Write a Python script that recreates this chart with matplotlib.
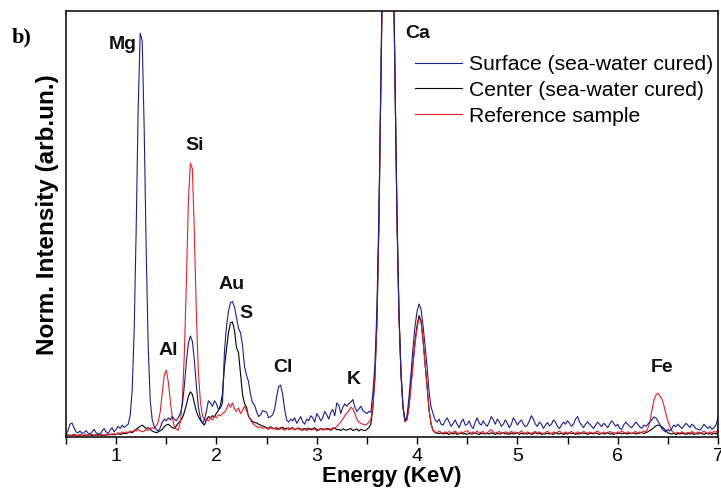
import numpy as np
import matplotlib
matplotlib.use("Agg")
import matplotlib.pyplot as plt

plt.rcParams["font.family"] = ["Liberation Sans", "DejaVu Sans"]

# energy grid, 0.02 keV steps from 0.5 to 7.0
energy = np.round(np.arange(0.50, 7.001, 0.02), 2)

# normalised counts (x1000), rows of 0.2 keV
surface = [
    5, 15, 30, 33, 22, 12, 10, 14, 8, 10,
    15, 9, 7, 12, 18, 10, 8, 6, 14, 20,
    12, 8, 16, 22, 12, 18, 25, 20, 28, 22,
    26, 30, 50, 110, 250, 490, 775, 948, 930, 720,
    435, 210, 85, 40, 25, 18, 14, 22, 35, 42,
    38, 45, 40, 48, 42, 38, 46, 55, 75, 120,
    175, 220, 237, 225, 180, 120, 70, 45, 32, 40,
    60, 85, 80, 72, 85, 78, 65, 68, 80, 200,
    260, 295, 315, 318, 305, 280, 255, 245, 215, 165,
    145, 130, 100, 80, 75, 60, 48, 52, 62, 60,
    58, 45, 48, 52, 65, 95, 118, 122, 100, 65,
    40, 35, 42, 38, 45, 32, 40, 48, 36, 30,
    42, 38, 50, 45, 35, 55, 48, 38, 45, 60,
    52, 42, 58, 65, 50, 80, 75, 55, 70, 78,
    72, 78, 82, 88, 70, 60, 66, 72, 62, 58,
    55, 60, 58, 104, 170, 300, 527, 851, 1188, 1533,
    1742, 1742, 1533, 1188, 846, 522, 292, 150, 72, 38,
    50, 95, 150, 210, 260, 295, 312, 300, 260, 215,
    165, 105, 70, 55, 40, 35, 42, 30, 28, 38,
    45, 35, 25, 32, 40, 30, 22, 35, 42, 28,
    30, 38, 25, 20, 35, 45, 32, 28, 38, 30,
    25, 35, 48, 40, 30, 42, 36, 25, 30, 40,
    32, 22, 30, 45, 38, 28, 35, 40, 30, 24,
    28, 38, 50, 42, 30, 25, 35, 30, 20, 28,
    34, 26, 30, 40, 35, 25, 20, 28, 35, 30,
    38, 32, 25, 30, 42, 48, 35, 28, 22, 30,
    36, 30, 25, 20, 28, 35, 30, 24, 32, 28,
    22, 30, 38, 32, 25, 30, 20, 18, 28, 35,
    30, 25, 22, 28, 35, 30, 24, 20, 28, 25,
    30, 35, 40, 47, 45, 38, 30, 20, 15, 12,
    18, 14, 20, 28, 24, 30, 25, 20, 26, 32,
    28, 22, 30, 26, 20, 18, 16, 22, 30, 25,
    20, 25, 18, 22, 28, 45,
]

center = [
    3, 5, 4, 3, 6, 4, 3, 5, 4, 3,
    5, 4, 6, 3, 5, 4, 6, 5, 3, 5,
    4, 6, 5, 7, 5, 6, 8, 6, 7, 9,
    8, 10, 12, 10, 14, 18, 22, 25, 28, 24,
    20, 22, 18, 14, 12, 10, 12, 15, 18, 24,
    28, 30, 26, 22, 20, 26, 33, 38, 45, 58,
    75, 95, 106, 100, 80, 60, 48, 40, 33, 28,
    40, 48, 45, 50, 47, 56, 62, 75, 100, 165,
    205, 245, 268, 270, 250, 210, 198, 150, 100, 78,
    70, 48, 42, 36, 34, 33, 30, 28, 26, 24,
    22, 20, 24, 21, 19, 22, 18, 20, 23, 19,
    21, 18, 20, 22, 17, 19, 21, 18, 16, 20,
    18, 21, 17, 19, 22, 18, 16, 20, 19, 17,
    20, 18, 16, 19, 21, 17, 18, 15, 19, 17,
    16, 18, 20, 15, 17, 19, 14, 18, 16, 15,
    18, 22, 30, 70, 138, 268, 503, 833, 1172, 1522,
    1738, 1740, 1532, 1186, 840, 515, 285, 148, 70, 36,
    42, 75, 125, 175, 225, 262, 285, 272, 228, 172,
    118, 62, 30, 16, 10, 9, 8, 10, 7, 9,
    8, 6, 9, 7, 10, 6, 8, 9, 7, 8,
    6, 9, 7, 8, 10, 7, 6, 9, 8, 7,
    9, 7, 10, 8, 6, 9, 7, 8, 10, 7,
    8, 6, 9, 7, 8, 10, 6, 9, 7, 8,
    7, 9, 6, 8, 10, 7, 9, 6, 8, 7,
    9, 7, 8, 6, 10, 8, 7, 9, 6, 8,
    7, 10, 8, 9, 6, 8, 7, 10, 8, 9,
    6, 8, 9, 7, 10, 8, 6, 9, 7, 8,
    10, 7, 8, 6, 9, 8, 10, 7, 9, 8,
    7, 9, 8, 10, 7, 8, 9, 11, 8, 10,
    12, 15, 18, 22, 26, 28, 27, 24, 20, 15,
    10, 8, 7, 9, 6, 8, 7, 9, 8, 6,
    8, 7, 9, 6, 8, 7, 10, 8, 6, 9,
    7, 8, 6, 9, 7, 10,
]

reference = [
    2, 4, 3, 5, 4, 3, 5, 4, 3, 5,
    4, 3, 5, 6, 4, 5, 3, 6, 5, 4,
    6, 5, 7, 5, 8, 6, 10, 8, 12, 10,
    12, 10, 14, 12, 16, 14, 18, 15, 12, 14,
    18, 15, 20, 22, 20, 26, 35, 60, 105, 145,
    157, 130, 85, 45, 25, 18, 16, 35, 85, 195,
    360, 550, 643, 630, 478, 290, 150, 85, 50, 40,
    42, 38, 45, 40, 48, 45, 52, 50, 55, 58,
    65, 78, 70, 80, 65, 60, 68, 55, 62, 72,
    62, 50, 40, 32, 28, 25, 22, 24, 20, 22,
    20, 18, 22, 19, 21, 17, 20, 23, 18, 16,
    19, 22, 18, 20, 17, 21, 19, 16, 20, 18,
    15, 18, 20, 17, 19, 14, 18, 20, 16, 19,
    17, 20, 18, 22, 20, 25, 30, 35, 42, 50,
    56, 62, 70, 66, 55, 42, 35, 32, 30, 28,
    30, 35, 42, 75, 140, 270, 505, 835, 1175, 1525,
    1740, 1742, 1535, 1190, 840, 515, 285, 148, 70, 36,
    40, 70, 120, 170, 220, 255, 280, 270, 225, 170,
    120, 65, 30, 15, 12, 10, 14, 11, 9, 12,
    10, 13, 9, 11, 14, 10, 8, 12, 10, 13,
    15, 11, 9, 12, 10, 14, 9, 11, 13, 8,
    10, 14, 17, 12, 9, 11, 13, 10, 8, 12,
    11, 9, 13, 10, 12, 8, 11, 14, 10, 9,
    12, 10, 8, 11, 13, 9, 12, 10, 7, 11,
    13, 10, 8, 12, 9, 11, 14, 10, 8, 12,
    9, 11, 13, 10, 8, 12, 10, 9, 13, 11,
    8, 12, 10, 9, 11, 14, 10, 8, 12, 10,
    9, 13, 11, 10, 8, 12, 10, 14, 11, 9,
    12, 10, 8, 11, 13, 9, 12, 10, 14, 12,
    20, 35, 60, 85, 98, 103, 96, 90, 75, 55,
    38, 25, 14, 10, 8, 11, 9, 12, 10, 8,
    11, 9, 13, 10, 8, 12, 9, 11, 14, 10,
    9, 12, 10, 13, 11, 18,
]

# element labels: (text, energy, height)
elements = [
    ("Mg", 1.07, 922), ("Si", 1.78, 685), ("Al", 1.52, 204),
    ("Au", 2.15, 359), ("S", 2.29, 289), ("Cl", 2.66, 162),
    ("K", 3.37, 134), ("Ca", 4.01, 948), ("Fe", 6.44, 162),
]

blue = "#1c1c96"
red = "#ee1c24"

fig = plt.figure(figsize=(7.21, 4.92), dpi=100)
ax = fig.add_axes([0.0915, 0.1118, 0.9043, 0.8658])

l_center, = ax.plot(energy, center, color="black", lw=0.8)
l_ref, = ax.plot(energy, reference, color=red, lw=0.8)
l_surf, = ax.plot(energy, surface, color=blue, lw=0.8)

ax.set_xlim(0.5, 7.0)
ax.set_ylim(0, 1000)
ax.set_xticks([1, 2, 3, 4, 5, 6, 7])
ax.set_xticks(np.arange(0.5, 7.01, 0.5), minor=True)
ax.set_yticks([])
ax.tick_params(axis="x", which="both", direction="out", length=5, width=1,
               labelsize=14, pad=3)

for sp in ax.spines.values():
    sp.set_linewidth(1.1)

ax.set_xlabel("Energy (KeV)", fontsize=16, fontweight="bold", labelpad=1)
ax.set_ylabel("Norm. Intensity (arb.un.)", fontsize=17.5, fontweight="bold",
              labelpad=5)
ax.yaxis.label.set_y(0.522)

for name, e, h in elements:
    ax.text(e, h, name, fontsize=14, fontweight="bold", ha="center",
            va="center", color="#111111")

fig.text(0.030, 0.923, "b)", fontsize=16, fontweight="bold",
         family="Liberation Serif", ha="center", va="center")

ax.legend([l_surf, l_center, l_ref],
          ["Surface (sea-water cured)", "Center (sea-water cured)",
           "Reference sample"],
          loc="upper left", bbox_to_anchor=(0.535, 0.897), frameon=False,
          fontsize=15.2, handlelength=2.25, handletextpad=0.3,
          labelspacing=0.33, borderpad=0, borderaxespad=0)

fig.savefig("out.png", dpi=100)
